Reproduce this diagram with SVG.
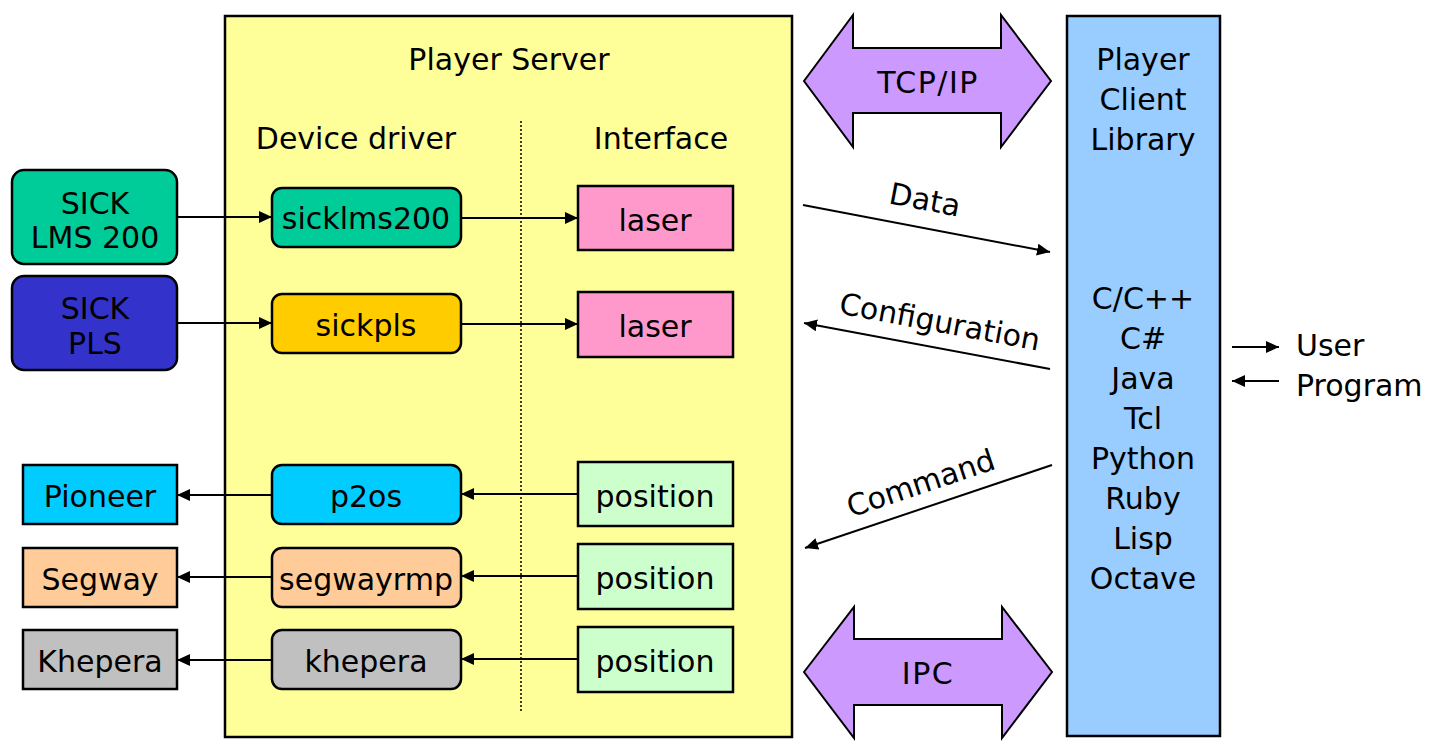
<svg xmlns="http://www.w3.org/2000/svg" width="1429" height="749" viewBox="0 0 1429 749">
<style>
  text { font-family: "DejaVu Sans", "Liberation Sans", sans-serif; font-size: 30px; fill: #000; text-anchor: middle; }
  .box { stroke: #000; stroke-width: 2.5; }
  .conn { stroke: #000; stroke-width: 2; fill: none; }
  .big { stroke: #000; stroke-width: 2; fill: #CC99FF; }
</style>
<defs>
  <marker id="ah" markerUnits="userSpaceOnUse" markerWidth="14" markerHeight="12" refX="13" refY="6" orient="auto">
    <path d="M0,0 L13,6 L0,12 z" fill="#000"/>
  </marker>
</defs>
<rect width="1429" height="749" fill="#fff"/>

<g id="player-server">
  <rect class="box" x="225" y="16" width="567" height="721" fill="#FFFF99"/>
  <text x="509" y="70" font-size="28">Player Server</text>
  <text x="356" y="149">Device driver</text>
  <text x="661" y="149">Interface</text>
  <line x1="521" y1="121" x2="521" y2="712" stroke="#000" stroke-width="1.5" stroke-dasharray="2,2"/>
</g>

<g id="client-library">
  <rect class="box" x="1067" y="16" width="153" height="720" fill="#99CCFF"/>
  <text x="1143" y="70">Player</text>
  <text x="1143" y="110">Client</text>
  <text x="1143" y="150">Library</text>
  <text x="1143" y="309">C/C++</text>
  <text x="1143" y="349">C#</text>
  <text x="1143" y="389">Java</text>
  <text x="1143" y="429">Tcl</text>
  <text x="1143" y="469">Python</text>
  <text x="1143" y="509">Ruby</text>
  <text x="1143" y="549">Lisp</text>
  <text x="1143" y="589">Octave</text>
</g>

<g id="tcpip">
  <polygon class="big" points="804,81 853,15 853,48 1001,48 1001,15 1051,81 1001,147 1001,113 853,113 853,147"/>
  <text x="928" y="93" font-size="33" letter-spacing="1.5">TCP/IP</text>
</g>
<g id="ipc">
  <polygon class="big" points="804,672 854,607 854,639 1002,639 1002,607 1052,672 1002,738 1002,705 854,705 854,738"/>
  <text x="928" y="684" font-size="33" letter-spacing="1.5">IPC</text>
</g>

<g id="sick-lms200">
  <rect class="box" x="12" y="170" width="165" height="94" rx="12" fill="#00CC99"/>
  <text x="95" y="214">SICK</text>
  <text x="95" y="248">LMS 200</text>
</g>
<g id="sick-pls">
  <rect class="box" x="12" y="276" width="165" height="94" rx="12" fill="#3333CC"/>
  <text x="95" y="319">SICK</text>
  <text x="95" y="354">PLS</text>
</g>
<g id="pioneer">
  <rect class="box" x="23" y="465" width="154" height="59" fill="#00CCFF"/>
  <text x="100" y="507">Pioneer</text>
</g>
<g id="segway">
  <rect class="box" x="23" y="548" width="154" height="59" fill="#FFCC99"/>
  <text x="100" y="590">Segway</text>
</g>
<g id="khepera-robot">
  <rect class="box" x="23" y="630" width="154" height="59" fill="#C0C0C0"/>
  <text x="100" y="672">Khepera</text>
</g>

<g id="sicklms200">
  <rect class="box" x="272" y="188" width="189" height="59" rx="10" fill="#00CC99"/>
  <text x="366" y="229">sicklms200</text>
</g>
<g id="sickpls">
  <rect class="box" x="272" y="294" width="189" height="59" rx="10" fill="#FFCC00"/>
  <text x="366" y="336">sickpls</text>
</g>
<g id="p2os">
  <rect class="box" x="272" y="465" width="189" height="59" rx="10" fill="#00CCFF"/>
  <text x="366" y="507">p2os</text>
</g>
<g id="segwayrmp">
  <rect class="box" x="272" y="548" width="189" height="59" rx="10" fill="#FFCC99"/>
  <text x="366" y="590">segwayrmp</text>
</g>
<g id="khepera">
  <rect class="box" x="272" y="630" width="189" height="59" rx="10" fill="#C0C0C0"/>
  <text x="366" y="672">khepera</text>
</g>

<g id="laser1">
  <rect class="box" x="578" y="186" width="155" height="64" fill="#FF99CC"/>
  <text x="655" y="231">laser</text>
</g>
<g id="laser2">
  <rect class="box" x="578" y="292" width="155" height="65" fill="#FF99CC"/>
  <text x="655" y="337">laser</text>
</g>
<g id="position1">
  <rect class="box" x="578" y="462" width="155" height="64" fill="#CCFFCC"/>
  <text x="655" y="507">position</text>
</g>
<g id="position2">
  <rect class="box" x="578" y="544" width="155" height="65" fill="#CCFFCC"/>
  <text x="655" y="589">position</text>
</g>
<g id="position3">
  <rect class="box" x="578" y="627" width="155" height="65" fill="#CCFFCC"/>
  <text x="655" y="672">position</text>
</g>

<g id="connectors">
  <line class="conn" x1="177" y1="217" x2="272" y2="217" marker-end="url(#ah)"/>
  <line class="conn" x1="177" y1="323" x2="272" y2="323" marker-end="url(#ah)"/>
  <line class="conn" x1="461" y1="218" x2="578" y2="218" marker-end="url(#ah)"/>
  <line class="conn" x1="461" y1="324" x2="578" y2="324" marker-end="url(#ah)"/>
  <line class="conn" x1="578" y1="494" x2="461" y2="494" marker-end="url(#ah)"/>
  <line class="conn" x1="578" y1="576" x2="461" y2="576" marker-end="url(#ah)"/>
  <line class="conn" x1="578" y1="659" x2="461" y2="659" marker-end="url(#ah)"/>
  <line class="conn" x1="272" y1="495" x2="177" y2="495" marker-end="url(#ah)"/>
  <line class="conn" x1="272" y1="577" x2="177" y2="577" marker-end="url(#ah)"/>
  <line class="conn" x1="272" y1="660" x2="177" y2="660" marker-end="url(#ah)"/>
  <line class="conn" x1="803" y1="205" x2="1050" y2="252" marker-end="url(#ah)"/>
  <line class="conn" x1="1050" y1="369" x2="804" y2="323" marker-end="url(#ah)"/>
  <line class="conn" x1="1052" y1="465" x2="805" y2="548" marker-end="url(#ah)"/>
  <line class="conn" x1="1232" y1="347" x2="1279" y2="347" marker-end="url(#ah)"/>
  <line class="conn" x1="1279" y1="381" x2="1232" y2="381" marker-end="url(#ah)"/>
  <text x="0" y="0" transform="translate(923,210) rotate(10.8)" font-size="28">Data</text>
  <text x="0" y="0" transform="translate(938,332) rotate(10.6)" font-size="29">Configuration</text>
  <text x="0" y="0" transform="translate(924,493) rotate(-18.5)" font-size="31">Command</text>
  <text x="1296" y="356" style="text-anchor:start">User</text>
  <text x="1296" y="396" style="text-anchor:start">Program</text>
</g>
</svg>
